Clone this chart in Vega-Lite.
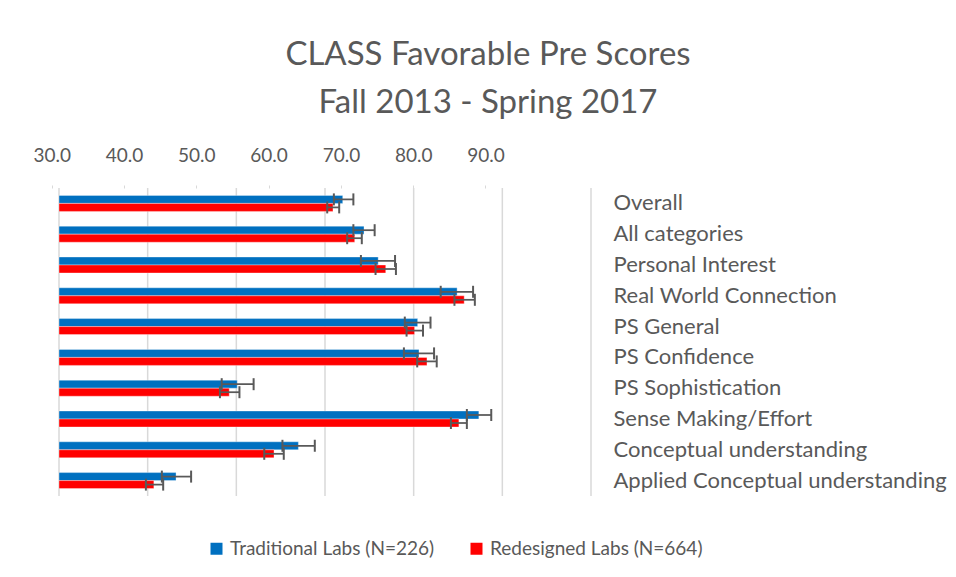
{
  "$schema": "https://vega.github.io/schema/vega-lite/v6.json",
  "autosize": "none",
  "width": 532,
  "height": 308,
  "padding": {"left": 59, "top": 188, "right": 365, "bottom": 81},
  "background": "white",
  "config": {
    "font": "Lato",
    "view": {"stroke": null},
    "axis": {"labelColor": "#595959", "labelFont": "Lato"},
    "legend": {"labelColor": "#595959", "labelFont": "Lato"}
  },
  "title": {
    "text": ["CLASS Favorable Pre Scores", "Fall 2013 - Spring 2017"],
    "fontSize": 33,
    "font": "Lato",
    "fontWeight": "normal",
    "color": "#595959",
    "anchor": "middle",
    "frame": "group",
    "dx": 163,
    "lineHeight": 48,
    "offset": 26
  },
  "datasets": {
    "scores": [
      {"category": "Overall", "series": "Traditional Labs (N=226)", "value": 62.0, "lo": 61.0, "hi": 63.2},
      {"category": "Overall", "series": "Redesigned Labs (N=664)", "value": 60.9, "lo": 60.25, "hi": 61.6},
      {"category": "All categories", "series": "Traditional Labs (N=226)", "value": 64.4, "lo": 63.2, "hi": 65.6},
      {"category": "All categories", "series": "Redesigned Labs (N=664)", "value": 63.35, "lo": 62.5, "hi": 64.15},
      {"category": "Personal Interest", "series": "Traditional Labs (N=226)", "value": 66.0, "lo": 64.05, "hi": 67.9},
      {"category": "Personal Interest", "series": "Redesigned Labs (N=664)", "value": 66.85, "lo": 65.7, "hi": 68.0},
      {"category": "Real World Connection", "series": "Traditional Labs (N=226)", "value": 74.9, "lo": 73.05, "hi": 76.7},
      {"category": "Real World Connection", "series": "Redesigned Labs (N=664)", "value": 75.7, "lo": 74.6, "hi": 76.9},
      {"category": "PS General", "series": "Traditional Labs (N=226)", "value": 70.45, "lo": 69.0, "hi": 71.9},
      {"category": "PS General", "series": "Redesigned Labs (N=664)", "value": 70.1, "lo": 69.2, "hi": 71.05},
      {"category": "PS Confidence", "series": "Traditional Labs (N=226)", "value": 70.6, "lo": 68.9, "hi": 72.3},
      {"category": "PS Confidence", "series": "Redesigned Labs (N=664)", "value": 71.5, "lo": 70.4, "hi": 72.6},
      {"category": "PS Sophistication", "series": "Traditional Labs (N=226)", "value": 50.1, "lo": 48.35, "hi": 51.95},
      {"category": "PS Sophistication", "series": "Redesigned Labs (N=664)", "value": 49.2, "lo": 48.15, "hi": 50.35},
      {"category": "Sense Making/Effort", "series": "Traditional Labs (N=226)", "value": 77.35, "lo": 76.0, "hi": 78.75},
      {"category": "Sense Making/Effort", "series": "Redesigned Labs (N=664)", "value": 75.1, "lo": 74.2, "hi": 76.0},
      {"category": "Conceptual understanding", "series": "Traditional Labs (N=226)", "value": 57.0, "lo": 55.2, "hi": 58.85},
      {"category": "Conceptual understanding", "series": "Redesigned Labs (N=664)", "value": 54.25, "lo": 53.15, "hi": 55.35},
      {"category": "Applied Conceptual understanding", "series": "Traditional Labs (N=226)", "value": 43.2, "lo": 41.6, "hi": 44.9},
      {"category": "Applied Conceptual understanding", "series": "Redesigned Labs (N=664)", "value": 40.7, "lo": 39.8, "hi": 41.75}
    ],
    "grid": [{"g": 30}, {"g": 40}, {"g": 50}, {"g": 60}, {"g": 70}, {"g": 80}, {"g": 90}]
  },
  "layer": [
    {
      "data": {"name": "grid"},
      "mark": {"type": "rule", "color": "#D9D9D9", "strokeWidth": 1.5},
      "encoding": {
        "x": {
          "field": "g", "type": "quantitative",
          "scale": {"domain": [30, 90], "nice": false, "zero": false},
          "axis": {
            "orient": "top", "title": null, "grid": false, "domain": false,
            "values": [30, 38.154, 46.308, 54.462, 62.616, 70.77, 78.924],
            "labelExpr": "format(30 + round((datum.value - 30) / 8.154) * 10, '.1f')",
            "tickOffset": -7.3, "tickSize": 3, "tickColor": "#D9D9D9",
            "labelPadding": 20, "labelFontSize": 19, "labelFlush": false, "labelOverlap": false
          }
        }
      }
    },
    {
      "data": {"name": "scores"},
      "mark": {"type": "bar", "stroke": "#FFFFFF", "strokeOpacity": 0.35, "strokeWidth": 1},
      "encoding": {
        "y": {
          "field": "category", "type": "nominal", "sort": null,
          "scale": {"paddingInner": 0.48, "paddingOuter": 0.24},
          "axis": {
            "orient": "right", "title": null, "domain": false, "ticks": false,
            "labelPadding": 22, "labelAlign": "left", "labelFontSize": 22, "labelLimit": 400
          }
        },
        "yOffset": {
          "field": "series", "type": "nominal",
          "scale": {"domain": ["Traditional Labs (N=226)", "Redesigned Labs (N=664)"], "paddingInner": 0, "paddingOuter": 0}
        },
        "x": {
          "field": "value", "type": "quantitative",
          "scale": {"domain": [30, 90], "nice": false, "zero": false},
          "axis": {
            "orient": "top", "title": null, "grid": false, "domain": false,
            "values": [30, 38.154, 46.308, 54.462, 62.616, 70.77, 78.924],
            "labelExpr": "format(30 + round((datum.value - 30) / 8.154) * 10, '.1f')",
            "tickOffset": -7.3, "tickSize": 3, "tickColor": "#D9D9D9",
            "labelPadding": 20, "labelFontSize": 19, "labelFlush": false, "labelOverlap": false
          }
        },
        "x2": {"datum": 30},
        "color": {
          "field": "series", "type": "nominal",
          "scale": {"domain": ["Traditional Labs (N=226)", "Redesigned Labs (N=664)"], "range": ["#0070C0", "#FF0000"]},
          "legend": {
            "title": null, "orient": "none", "direction": "horizontal",
            "legendX": 148, "legendY": 351, "padding": 0,
            "symbolType": "square", "symbolSize": 144, "symbolStrokeWidth": 0,
            "labelFontSize": 19, "labelOffset": 4, "columnPadding": 32, "labelLimit": 400
          }
        }
      }
    },
    {
      "data": {"name": "scores"},
      "mark": {"type": "rule", "color": "#595959", "strokeWidth": 1.75},
      "encoding": {
        "y": {"field": "category", "type": "nominal", "sort": null},
        "yOffset": {"field": "series", "type": "nominal"},
        "x": {"field": "lo", "type": "quantitative"},
        "x2": {"field": "hi"}
      }
    },
    {
      "data": {"name": "scores"},
      "mark": {"type": "tick", "color": "#595959", "thickness": 2, "size": 12, "opacity": 1},
      "encoding": {
        "y": {"field": "category", "type": "nominal", "sort": null},
        "yOffset": {"field": "series", "type": "nominal"},
        "x": {"field": "lo", "type": "quantitative"}
      }
    },
    {
      "data": {"name": "scores"},
      "mark": {"type": "tick", "color": "#595959", "thickness": 2, "size": 12, "opacity": 1},
      "encoding": {
        "y": {"field": "category", "type": "nominal", "sort": null},
        "yOffset": {"field": "series", "type": "nominal"},
        "x": {"field": "hi", "type": "quantitative"}
      }
    }
  ]
}
